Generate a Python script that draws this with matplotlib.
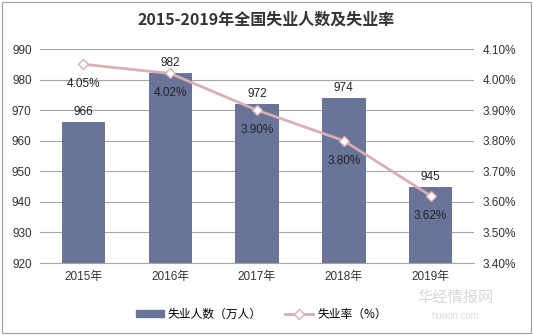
import numpy as np
import matplotlib
matplotlib.use("Agg")
import matplotlib.pyplot as plt
from matplotlib.patches import Rectangle

plt.rcParams["font.family"] = ["Liberation Sans", "Noto Sans CJK SC", "DejaVu Sans"]

# ── Data ──────────────────────────────────────────────────────────────────────
YEARS      = ["2015年", "2016年", "2017年", "2018年", "2019年"]
UNEMPLOYED = [966, 982, 972, 974, 945]          # 万人
RATE       = [4.05, 4.02, 3.90, 3.80, 3.62]     # %

BAR_COLOR  = "#6A7398"
LINE_COLOR = "#D9AEB4"
GRID_COLOR = "#A6A6A6"

fig = plt.figure(figsize=(5.33, 3.35), dpi=100)
ax = fig.add_axes([40 / 533, 1 - 263 / 335, 434 / 533, 214 / 335])
ax2 = ax.twinx()

x = np.arange(len(YEARS))
ax.bar(x, UNEMPLOYED, width=0.5, color=BAR_COLOR, zorder=2)
for xi, v in zip(x, UNEMPLOYED):
    ax.text(xi, v + 1.3, f"{v}", ha="center", va="bottom", fontsize=8.5, color="#222222")

ax.set_ylim(920, 990)
ax.set_yticks(np.arange(920, 991, 10))
ax.set_xlim(-0.5, len(YEARS) - 0.5)
ax.set_xticks(x)
ax.set_xticklabels(YEARS, fontsize=8.5, family=["Liberation Sans", "Noto Sans CJK SC"])
ax.yaxis.grid(True, color=GRID_COLOR, linewidth=0.8, zorder=0)
ax.set_axisbelow(True)
ax.tick_params(length=0, labelsize=8.5, colors="#333333", pad=6)

ax2.plot(x, RATE, color=LINE_COLOR, linewidth=2, marker="D", markersize=5,
         markerfacecolor="white", markeredgecolor=LINE_COLOR, markeredgewidth=1, zorder=3)
for xi, r in zip(x, RATE):
    ax2.text(xi, r - 0.065, f"{r:.2f}%", ha="center", va="center", fontsize=8.5, color="#222222")
ax2.set_ylim(3.40, 4.10)
ax2.set_yticks(np.arange(3.40, 4.101, 0.10))
ax2.set_yticklabels([f"{t:.2f}%" for t in np.arange(3.40, 4.101, 0.10)])
ax2.tick_params(length=0, labelsize=8.5, colors="#333333", pad=6)

for a in (ax, ax2):
    for s in a.spines.values():
        s.set_visible(False)
ax.spines["bottom"].set_visible(True)
ax.spines["bottom"].set_color(GRID_COLOR)

fig.text(0.5, 1 - 20 / 335, "2015-2019年全国失业人数及失业率", ha="center", va="center",
         fontsize=11.5, fontweight="bold", color="#333333",
         family=["Noto Sans CJK SC"])

# legend
h1 = plt.Rectangle((0, 0), 1, 1, color=BAR_COLOR)
h2, = ax2.plot([], [], color=LINE_COLOR, linewidth=2, marker="D", markersize=5,
               markerfacecolor="white", markeredgecolor=LINE_COLOR)
fig.legend([h1, h2], ["失业人数（万人）", "失业率（%）"], loc="center",
           bbox_to_anchor=(0.49, 1 - 314 / 335), ncol=2, frameon=False,
           prop={"family": ["Noto Sans CJK SC"], "size": 8.5},
           handlelength=2.4, handleheight=0.5, columnspacing=2.0, handletextpad=0.3)

# watermark
fig.text(455 / 533, 1 - 297 / 335, "华经情报网", ha="center", va="center", fontsize=11,
         color="#D8D8D8", family=["Noto Sans CJK SC"])
fig.text(455 / 533, 1 - 316 / 335, "huaon.com", ha="center", va="center", fontsize=7,
         color="#DDDDDD")

# outer frame
fig.patches.append(Rectangle((0.003, 0.005), 0.993, 0.99, transform=fig.transFigure,
                             fill=False, edgecolor="#A0A0A0", linewidth=0.8))

fig.savefig("out.png", dpi=100)
